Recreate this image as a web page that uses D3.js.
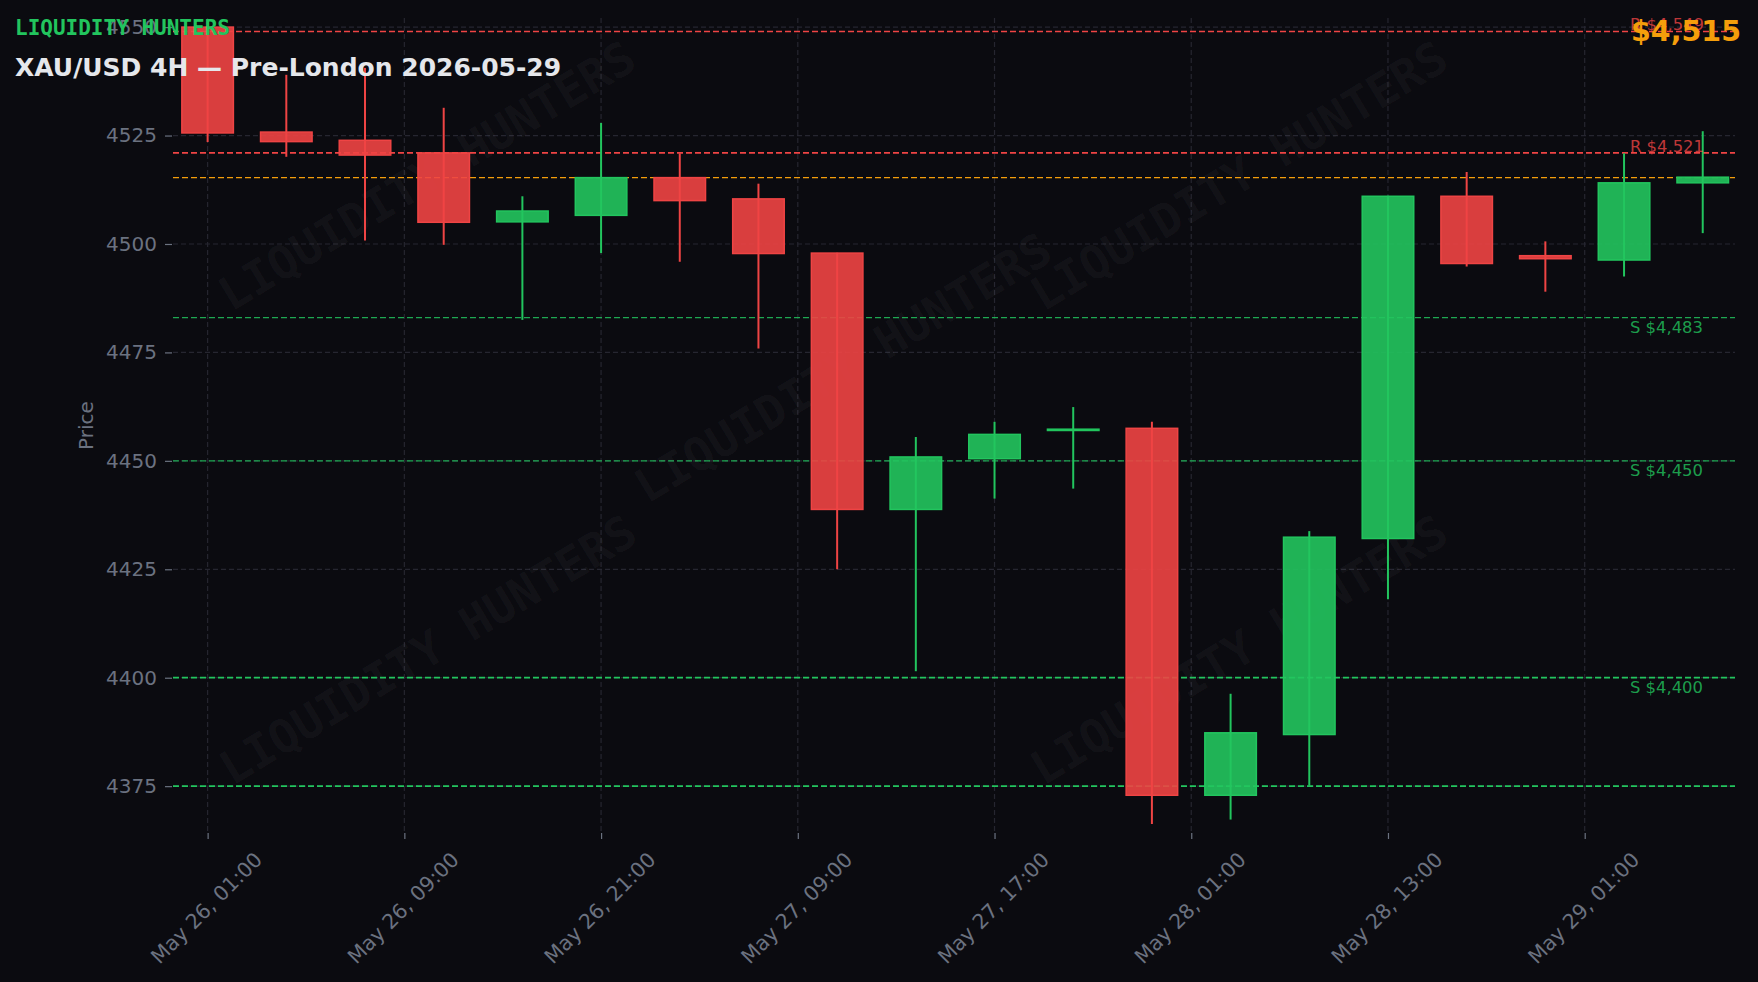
<!DOCTYPE html>
<html>
<head>
<meta charset="utf-8">
<script src="https://cdn.jsdelivr.net/npm/d3@7"></script>
<style>
  html, body { margin: 0; padding: 0; background: #0b0b10; }
  svg { display: block; }
</style>
</head>
<body>
<div id="chart"></div>
<script>
// ---------------- DATA ----------------
const candleIndex = [0,1,2,3,4,5,6,7,8,9,10,11,12,13,14,15,16,17,18,19];
const opens  = [4550.0,4525.8,4523.9,4521.0,4505.1,4506.6,4515.3,4510.4,4497.9,4438.8,4450.5,4457.0,4457.5,4372.9,4386.9,4432.1,4511.0,4497.3,4496.3,4514.1];
const highs  = [4550.2,4539.0,4540.6,4531.4,4511.0,4527.9,4520.9,4513.9,4498.0,4455.5,4459.0,4462.4,4459.0,4396.3,4433.8,4511.1,4516.6,4500.6,4520.9,4526.0];
const lows   = [4523.5,4520.1,4500.8,4499.8,4482.5,4497.9,4495.9,4475.9,4425.0,4401.5,4441.3,4443.6,4366.3,4367.3,4375.1,4418.1,4494.8,4489.0,4492.5,4502.5];
const closes = [4525.6,4523.6,4520.5,4505.0,4507.6,4515.3,4510.0,4497.8,4438.8,4450.9,4456.1,4457.3,4372.9,4387.3,4432.4,4511.0,4495.5,4496.6,4514.1,4515.4];

const xTickPositions = [0, 2.5, 5, 7.5, 10, 12.5, 15, 17.5];
const xTickLabels = ["May 26, 01:00","May 26, 09:00","May 26, 21:00","May 27, 09:00","May 27, 17:00","May 28, 01:00","May 28, 13:00","May 29, 01:00"];
const yTicks = [4375, 4400, 4425, 4450, 4475, 4500, 4525, 4550];

const resistanceLevels = [4549, 4521];
const resistanceLabels = ["R $4,549", "R $4,521"];
const supportLevels = [4483, 4450, 4400, 4375];
const supportLabels = ["S $4,483", "S $4,450", "S $4,400", ""];
const currentPrice = 4515.3;
const currentPriceLabel = "$4,515";

const titleText = "XAU/USD 4H — Pre-London 2026-05-29";
const brandText = "LIQUIDITY HUNTERS";
const yAxisTitle = "Price";

// ---------------- LAYOUT ----------------
const W = 1758, H = 982;
const plot = { left: 173, right: 1735, top: 18, bottom: 833 };

const BG = "#0b0b10";
const RED = "#ef4444", GREEN = "#22c55e", ORANGE = "#f59e0b";
const GRID = "#262630", TICKC = "#6b7280";

const svg = d3.select("#chart").append("svg")
  .attr("width", W).attr("height", H)
  .style("background", BG);

svg.append("rect").attr("width", W).attr("height", H).attr("fill", BG);

const x = d3.scaleLinear().domain([-0.44, 19.41]).range([plot.left, plot.right]);
const y = d3.scaleLinear().domain([4364.2, 4552.1]).range([plot.bottom, plot.top]);

// ---------------- GRID ----------------
const grid = svg.append("g");
grid.selectAll("line.hg").data(yTicks).join("line")
  .attr("x1", plot.left).attr("x2", plot.right)
  .attr("y1", d => y(d)).attr("y2", d => y(d))
  .attr("stroke", GRID).attr("stroke-width", 1.2).attr("stroke-dasharray", "5,3");
grid.selectAll("line.vg").data(xTickPositions).join("line")
  .attr("x1", d => x(d)).attr("x2", d => x(d))
  .attr("y1", plot.top).attr("y2", plot.bottom)
  .attr("stroke", GRID).attr("stroke-width", 1.2).attr("stroke-dasharray", "5,3");

// ---------------- WATERMARKS ----------------
const wmPos = [[427,176],[843,368],[1239,176],[428,650],[1239,650]];
svg.append("g").selectAll("text").data(wmPos).join("text")
  .attr("transform", d => `translate(${d[0]},${d[1]}) rotate(-31)`)
  .attr("text-anchor", "middle").attr("dominant-baseline", "central")
  .attr("font-family", "DejaVu Sans Mono").attr("font-weight", "bold")
  .attr("font-size", 46.5).attr("fill", "#ffffff").attr("fill-opacity", 0.045)
  .text(brandText);

// ---------------- AXES ----------------
const yAxis = d3.axisLeft(y).tickValues(yTicks).tickSize(7).tickPadding(8).tickFormat(d3.format("d"));
const gy = svg.append("g").attr("transform", `translate(${plot.left - 1},0)`).call(yAxis);
gy.select(".domain").remove();
gy.selectAll(".tick line").attr("stroke", TICKC).attr("stroke-width", 1.2);
gy.selectAll(".tick text").attr("fill", TICKC).attr("font-family", "DejaVu Sans").attr("font-size", 20);

const xAxis = d3.axisBottom(x).tickValues(xTickPositions).tickSize(6).tickFormat(() => "");
const gx = svg.append("g").attr("transform", `translate(0,${plot.bottom})`).call(xAxis);
gx.select(".domain").remove();
gx.selectAll(".tick line").attr("stroke", TICKC).attr("stroke-width", 1.2);

svg.append("g").selectAll("text").data(xTickPositions).join("text")
  .attr("transform", d => `translate(${x(d) - 1},${plot.bottom + 75}) rotate(-45)`)
  .attr("text-anchor", "middle").attr("dominant-baseline", "central")
  .attr("font-family", "DejaVu Sans").attr("font-size", 20.5).attr("fill", TICKC)
  .text((d, i) => xTickLabels[i]);

svg.append("text")
  .attr("transform", `translate(86,${(plot.top + plot.bottom) / 2}) rotate(-90)`)
  .attr("text-anchor", "middle").attr("dominant-baseline", "central")
  .attr("font-family", "DejaVu Sans").attr("font-size", 20).attr("fill", TICKC)
  .text(yAxisTitle);

// ---------------- LEVEL LINES ----------------
const lv = svg.append("g");
lv.selectAll("line.r").data(resistanceLevels).join("line")
  .attr("x1", plot.left).attr("x2", plot.right)
  .attr("y1", d => y(d)).attr("y2", d => y(d))
  .attr("stroke", RED).attr("stroke-width", 1.6).attr("stroke-dasharray", "6,3");
lv.selectAll("line.s").data(supportLevels).join("line")
  .attr("x1", plot.left).attr("x2", plot.right)
  .attr("y1", d => y(d)).attr("y2", d => y(d))
  .attr("stroke", GREEN).attr("stroke-width", (d, i) => i < 2 ? 1.3 : 1.7)
  .attr("stroke-opacity", (d, i) => i < 2 ? 0.85 : 1)
  .attr("stroke-dasharray", "6,3");
lv.append("line")
  .attr("x1", plot.left).attr("x2", plot.right)
  .attr("y1", y(currentPrice)).attr("y2", y(currentPrice))
  .attr("stroke", ORANGE).attr("stroke-width", 1.4).attr("stroke-dasharray", "6,3");

// ---------------- CANDLES ----------------
const step = x(1) - x(0);
const bw = step * 0.655;
const candles = svg.append("g");
candleIndex.forEach(i => {
  const up = closes[i] >= opens[i];
  const col = up ? GREEN : RED;
  candles.append("line")
    .attr("x1", x(i)).attr("x2", x(i))
    .attr("y1", y(highs[i])).attr("y2", y(lows[i]))
    .attr("stroke", col).attr("stroke-width", 2);
  const top = y(Math.max(opens[i], closes[i]));
  const bot = y(Math.min(opens[i], closes[i]));
  candles.append("rect")
    .attr("x", x(i) - bw / 2).attr("width", bw)
    .attr("y", top).attr("height", Math.max(bot - top, 0.8))
    .attr("fill", col).attr("fill-opacity", 0.9)
    .attr("stroke", col).attr("stroke-width", 1.5);
});

// ---------------- LEVEL LABELS ----------------
const labX = 1630;
svg.append("g").selectAll("text").data(resistanceLevels).join("text")
  .attr("x", labX).attr("y", d => y(d) - 1)
  .attr("font-family", "DejaVu Sans").attr("font-size", 16.4)
  .attr("fill", RED).attr("fill-opacity", 0.8)
  .text((d, i) => resistanceLabels[i]);
svg.append("g").selectAll("text").data(supportLevels).join("text")
  .attr("x", labX).attr("y", d => y(d) + 3)
  .attr("dominant-baseline", "hanging")
  .attr("font-family", "DejaVu Sans").attr("font-size", 16.4)
  .attr("fill", GREEN).attr("fill-opacity", 0.8)
  .text((d, i) => supportLabels[i]);

// ---------------- TITLES ----------------
svg.append("text").attr("x", 1741).attr("y", 41)
  .attr("text-anchor", "end")
  .attr("font-family", "DejaVu Sans").attr("font-weight", "bold").attr("font-size", 28.5)
  .attr("fill", ORANGE).text(currentPriceLabel);

svg.append("text").attr("x", 15).attr("y", 35)
  .attr("font-family", "DejaVu Sans Mono").attr("font-weight", "bold").attr("font-size", 21)
  .attr("fill", GREEN).text(brandText);

svg.append("text").attr("x", 15).attr("y", 76)
  .attr("font-family", "DejaVu Sans").attr("font-weight", "bold").attr("font-size", 25)
  .attr("fill", "#e5e7eb").text(titleText);
</script>
</body>
</html>
